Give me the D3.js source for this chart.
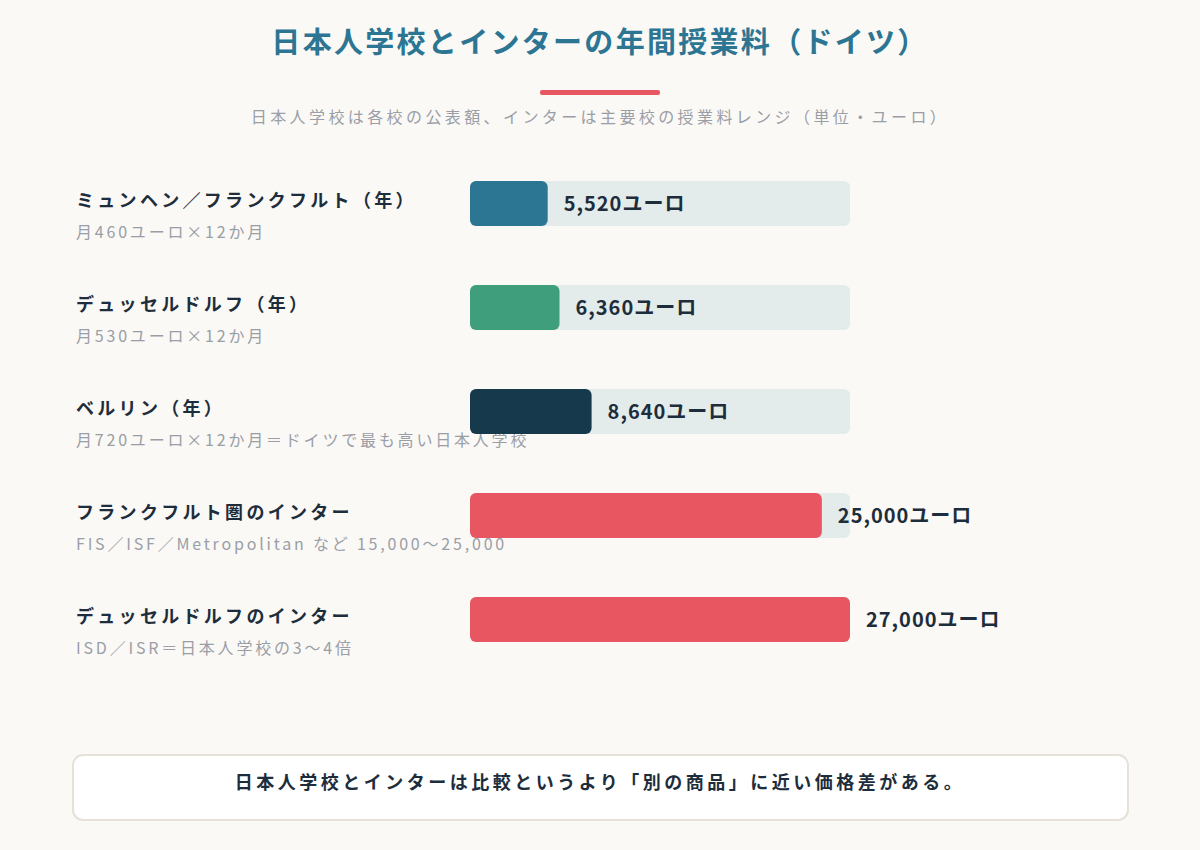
<!DOCTYPE html>
<html lang="ja">
<head>
<meta charset="utf-8">
<script src="https://cdn.jsdelivr.net/npm/d3@7"></script>
<style>
  html, body { margin: 0; padding: 0; background: #faf9f6; }
  svg { display: block; font-family: "Noto Sans CJK JP", "Noto Sans", sans-serif; }
</style>
</head>
<body>
<svg id="chart" width="1200" height="850"></svg>
<script>
const labels = ['ミュンヘン／フランクフルト（年）', 'デュッセルドルフ（年）', 'ベルリン（年）', 'フランクフルト圏のインター', 'デュッセルドルフのインター'];
const notes = ['月460ユーロ×12か月', '月530ユーロ×12か月', '月720ユーロ×12か月＝ドイツで最も高い日本人学校', 'FIS／ISF／Metropolitan など 15,000〜25,000', 'ISD／ISR＝日本人学校の3〜4倍'];
const values = [5520, 6360, 8640, 25000, 27000];
const colors = ['#2c7593', '#3f9e7c', '#163a4c', '#e85661', '#e85661'];

const svg = d3.select('#chart');

// title block
svg.append('text')
    .attr('x', 600).attr('y', 53)
    .attr('text-anchor', 'middle')
    .attr('font-size', 29).attr('font-weight', 700)
    .attr('letter-spacing', 2.3)
    .attr('fill', '#2c7593')
    .text('日本人学校とインターの年間授業料（ドイツ）');

svg.append('rect')
    .attr('x', 540).attr('y', 90).attr('width', 120).attr('height', 5)
    .attr('rx', 2).attr('fill', '#e85661');

svg.append('text')
    .attr('x', 600).attr('y', 123)
    .attr('text-anchor', 'middle')
    .attr('font-size', 16)
    .attr('letter-spacing', 3.4)
    .attr('fill', '#9a9ea6')
    .text('日本人学校は各校の公表額、インターは主要校の授業料レンジ（単位・ユーロ）');

// bars
const x = d3.scaleLinear().domain([0, 27000]).range([0, 380]);
const y = d3.scaleBand().domain(labels).range([181, 642]).paddingInner(59 / 104).paddingOuter(0);

const rows = svg.append('g').selectAll('g')
    .data(labels)
    .join('g')
    .attr('transform', d => `translate(0,${y(d)})`);

rows.append('text')
    .attr('x', 76).attr('y', 26)
    .attr('font-size', 18).attr('font-weight', 700)
    .attr('letter-spacing', 3.3)
    .attr('fill', '#1e2d3b')
    .text(d => d);

rows.append('text')
    .attr('x', 76).attr('y', 57)
    .attr('font-size', 16)
    .attr('letter-spacing', 2.8)
    .attr('fill', '#9a9ea6')
    .text((d, i) => notes[i]);

rows.append('rect')
    .attr('x', 470).attr('y', 0)
    .attr('width', x(27000)).attr('height', y.bandwidth())
    .attr('rx', 6)
    .attr('fill', '#e4ebeb');

rows.append('rect')
    .attr('x', 470).attr('y', 0)
    .attr('width', (d, i) => x(values[i])).attr('height', y.bandwidth())
    .attr('rx', 6)
    .attr('fill', (d, i) => colors[i]);

rows.append('text')
    .attr('x', (d, i) => 470 + x(values[i]) + 16)
    .attr('y', 30)
    .attr('font-size', 20).attr('font-weight', 700)
    .attr('letter-spacing', 1)
    .attr('fill', '#1e2d3b')
    .text((d, i) => d3.format(',')(values[i]) + 'ユーロ');

// note box
svg.append('rect')
    .attr('x', 73).attr('y', 755).attr('width', 1055).attr('height', 65)
    .attr('rx', 10)
    .attr('fill', '#ffffff').attr('stroke', '#e6e1d9').attr('stroke-width', 2);

svg.append('text')
    .attr('x', 600).attr('y', 789)
    .attr('text-anchor', 'middle')
    .attr('font-size', 18).attr('font-weight', 700)
    .attr('letter-spacing', 3.5)
    .attr('fill', '#1e2d3b')
    .text('日本人学校とインターは比較というより「別の商品」に近い価格差がある。');
</script>
</body>
</html>
